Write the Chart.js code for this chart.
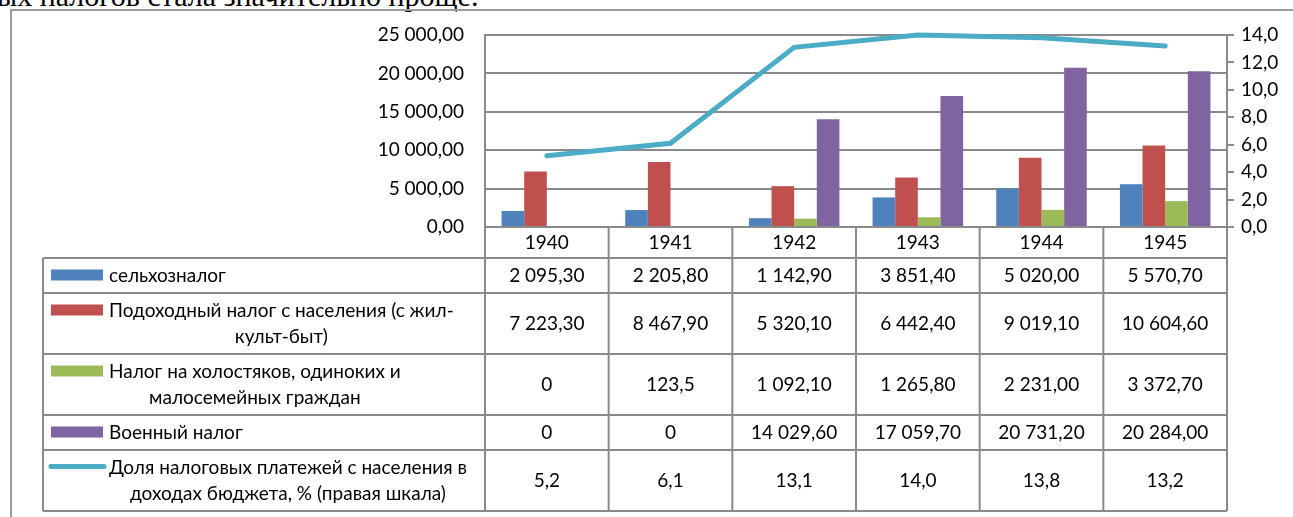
<!DOCTYPE html>
<html>
<head>
<meta charset="utf-8">
<script src="https://cdn.jsdelivr.net/npm/chart.js@4.4.1/dist/chart.umd.min.js"></script>
<style>
    html, body { margin: 0; padding: 0; background: #fff; }
    body { width: 1293px; height: 517px; overflow: hidden; position: relative; }
    #lead {
        position: absolute; left: -3px; top: -19px;
        font-family: 'Liberation Serif', 'Times New Roman', serif;
        font-size: 30px; line-height: 30px; white-space: nowrap; color: #000;
    }
    #wrap { position: absolute; left: 0; top: 0; width: 1293px; height: 517px; }
</style>
</head>
<body>
<div id="lead">ых налогов стала значительно проще.</div>
<div id="wrap"><canvas id="chart"></canvas></div>
<script>
// Data
const years = ['1940', '1941', '1942', '1943', '1944', '1945'];
const agriTax = [2095.3, 2205.8, 1142.9, 3851.4, 5020.0, 5570.7];
const incomeTax = [7223.3, 8467.9, 5320.1, 6442.4, 9019.1, 10604.6];
const bachelorTax = [0, 123.5, 1092.1, 1265.8, 2231.0, 3372.7];
const warTax = [0, 0, 14029.6, 17059.7, 20731.2, 20284.0];
const budgetShare = [5.2, 6.1, 13.1, 14.0, 13.8, 13.2];

const leftTicks = [0, 5000, 10000, 15000, 20000, 25000];
const rightTicks = [0, 2, 4, 6, 8, 10, 12, 14];

const FONT = "Lato, 'Noto Sans', sans-serif";
const LINE_GRAY = '#8a8a8a';

// "25 000,00" style numbers
function fmt(v, dec) {
    const parts = v.toFixed(dec).split('.');
    const int = parts[0].replace(/\B(?=(\d{3})+(?!\d))/g, ' ');
    return parts[1] ? int + ',' + parts[1] : int;
}
// cells of the data table: zero as "0", small values with one decimal
function fmtCell(v) {
    if (v === 0) return '0';
    if (v < 1000) return fmt(v, 1);
    return fmt(v, 2);
}

// Data table under the plot (legend column + one column per year)
const dataTable = {
    id: 'dataTable',
    afterDraw(chart) {
        const ctx = chart.ctx;
        const x = chart.scales.x;
        const area = chart.chartArea;
        const step = x.getPixelForValue(1) - x.getPixelForValue(0);
        const edges = years.map((_, i) => x.getPixelForValue(i) - step / 2);
        edges.push(x.getPixelForValue(years.length - 1) + step / 2);
        const legendLeft = 43;
        const headTop = area.bottom;
        const headBottom = headTop + 31;

        ctx.save();
        ctx.font = '19px ' + FONT;
        ctx.fillStyle = '#000';
        ctx.textBaseline = 'middle';
        ctx.textAlign = 'center';

        // year labels
        years.forEach((yr, i) => ctx.fillText(yr, x.getPixelForValue(i), (headTop + headBottom) / 2));

        // rows
        const rowLines = [headBottom];
        let top = headBottom;
        chart.data.datasets.forEach(ds => {
            const lines = ds.label.split('\n');
            const h = lines.length === 1 ? 35 : 61;
            const mid = top + h / 2;
            const firstY = lines.length === 1 ? mid : mid - 13;

            // legend key
            if (ds.type === 'line') {
                ctx.save();
                ctx.strokeStyle = ds.borderColor;
                ctx.lineWidth = 5;
                ctx.lineCap = 'round';
                ctx.beginPath();
                ctx.moveTo(51, firstY - 1);
                ctx.lineTo(104, firstY - 1);
                ctx.stroke();
                ctx.restore();
            } else {
                ctx.fillStyle = ds.backgroundColor;
                ctx.fillRect(51, firstY - 6, 52, 11);
            }

            // legend text, lines centred on the first line
            ctx.fillStyle = '#000';
            const textLeft = 109;
            if (lines.length === 1) {
                ctx.textAlign = 'left';
                ctx.fillText(lines[0], textLeft, firstY);
            } else {
                const firstW = ctx.measureText(lines[0]).width;
                const cx = textLeft + firstW / 2;
                ctx.textAlign = 'center';
                lines.forEach((l, k) => ctx.fillText(l, cx, firstY + k * 26));
            }

            // values
            ctx.textAlign = 'center';
            ds.data.forEach((v, i) => {
                const txt = ds.type === 'line' ? fmt(v, 1) : fmtCell(v);
                ctx.fillText(txt, x.getPixelForValue(i), mid);
            });

            top += h;
            rowLines.push(top);
        });

        // grid of the table
        ctx.strokeStyle = LINE_GRAY;
        ctx.lineWidth = 2;
        ctx.beginPath();
        rowLines.forEach(yy => { ctx.moveTo(legendLeft, yy); ctx.lineTo(edges[edges.length - 1], yy); });
        edges.forEach(xx => { ctx.moveTo(xx, headTop); ctx.lineTo(xx, top); });
        ctx.moveTo(legendLeft, headBottom); ctx.lineTo(legendLeft, top);
        ctx.stroke();

        // frame of the chart object
        ctx.strokeStyle = '#9c9c9c';
        ctx.beginPath();
        ctx.moveTo(11, chart.height); ctx.lineTo(11, 10); ctx.lineTo(chart.width, 10);
        ctx.stroke();
        ctx.restore();
    }
};

new Chart(document.getElementById('chart'), {
    data: {
        labels: years,
        datasets: [
            { type: 'bar', label: 'сельхозналог', data: agriTax, backgroundColor: '#4F81BD', yAxisID: 'y', order: 2 },
            { type: 'bar', label: 'Подоходный налог с населения (с жил-\nкульт-быт)', data: incomeTax, backgroundColor: '#C0504D', yAxisID: 'y', order: 2 },
            { type: 'bar', label: 'Налог на холостяков, одиноких и\nмалосемейных граждан', data: bachelorTax, backgroundColor: '#9BBB59', yAxisID: 'y', order: 2 },
            { type: 'bar', label: 'Военный налог', data: warTax, backgroundColor: '#8064A2', yAxisID: 'y', order: 2 },
            {
                type: 'line', label: 'Доля налоговых платежей с населения в\nдоходах бюджета, % (правая шкала)',
                data: budgetShare, borderColor: '#4BACC6', backgroundColor: '#4BACC6', borderWidth: 5,
                borderCapStyle: 'round', pointRadius: 0, tension: 0, clip: false, yAxisID: 'y1', order: 1
            }
        ]
    },
    options: {
        responsive: true,
        maintainAspectRatio: false,
        animation: false,
        layout: { padding: { top: 35, left: 0, right: 0, bottom: 0 } },
        datasets: { bar: { categoryPercentage: 0.732, barPercentage: 1 } },
        plugins: { legend: { display: false }, tooltip: { enabled: false } },
        scales: {
            x: {
                grid: { display: false },
                border: { display: false },
                ticks: { display: false },
                afterFit: s => { s.height = 290; }
            },
            y: {
                position: 'left',
                min: 0, max: 25000,
                afterBuildTicks: s => { s.ticks = leftTicks.map(v => ({ value: v })); },
                grid: { color: LINE_GRAY, lineWidth: 2, drawTicks: false },
                border: { color: LINE_GRAY, width: 2 },
                ticks: { color: '#000', font: { family: FONT, size: 19 }, padding: 21, callback: v => fmt(v, 2) },
                afterFit: s => { s.width = 485; }
            },
            y1: {
                position: 'right',
                min: 0, max: 14,
                afterBuildTicks: s => { s.ticks = rightTicks.map(v => ({ value: v })); },
                grid: { drawOnChartArea: false, color: LINE_GRAY, lineWidth: 2, tickLength: 7 },
                border: { color: LINE_GRAY, width: 2 },
                ticks: { color: '#000', font: { family: FONT, size: 19 }, padding: 7, callback: v => fmt(v, 1) },
                afterFit: s => { s.width = 66; }
            }
        }
    },
    plugins: [dataTable]
});
</script>
</body>
</html>
